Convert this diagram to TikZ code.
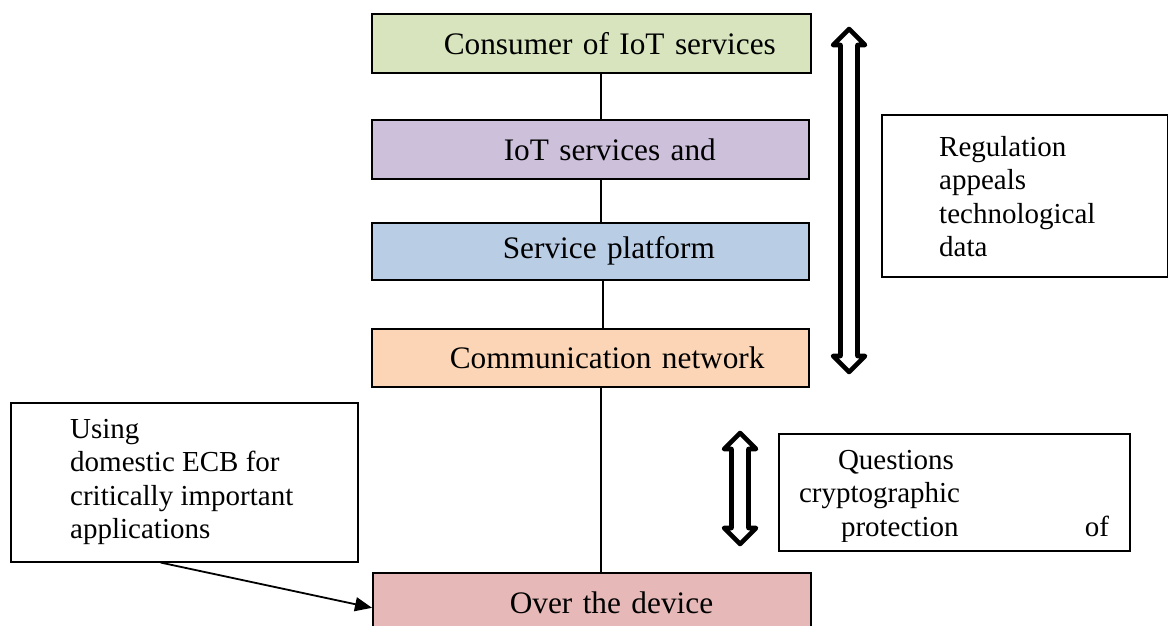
\documentclass[tikz,border=0pt]{standalone}
\usepackage{fontspec}
\setmainfont{Liberation Serif}
\usetikzlibrary{arrows.meta}
\definecolor{cgreen}{HTML}{D7E4BD}
\definecolor{cpurple}{HTML}{CCC0DA}
\definecolor{cblue}{HTML}{B9CDE5}
\definecolor{corange}{HTML}{FBD5B5}
\definecolor{cpink}{HTML}{E6B9B8}
\tikzset{
  layer/.style={draw, line width=1.6pt, inner sep=0pt, anchor=north west, align=left,
    font=\fontsize{31.3}{38}\selectfont},
  sidebox/.style={draw, line width=1.6pt, inner sep=0pt, anchor=north west},
  sidetext/.style={inner sep=0pt, align=left, font=\fontsize{29}{33.5}\selectfont},
  conn/.style={line width=1.1pt},
  dblarrow/.style={draw, fill=white, line width=4.6pt, line join=round},
  pointer/.style={line width=1.8pt, -{Triangle[length=17pt,width=14pt]}}
}
\begin{document}
\begin{tikzpicture}[x=1pt,y=1pt]
\useasboundingbox (0,0) rectangle (1168,-626);
% layer boxes
\node[layer, fill=cgreen, minimum width=439pt, minimum height=59pt, text width=439pt] (g) at (371,-13) {\hspace*{72pt}Consumer of IoT services};
\node[layer, fill=cpurple, minimum width=437pt, minimum height=59pt, text width=437pt] (p) at (371,-119) {\hspace*{132pt}IoT services and};
\node[layer, fill=cblue, minimum width=437pt, minimum height=57pt, text width=437pt] (b) at (371,-222) {\hspace*{131pt}Service platform};
\node[layer, fill=corange, minimum width=437pt, minimum height=58pt, text width=437pt] (o) at (371,-328) {\hspace*{78pt}Communication network};
\node[layer, fill=cpink, minimum width=438pt, minimum height=60pt, text width=438pt] (d) at (372,-572) {\hspace*{137pt}Over the device};
% connectors
\coordinate (cx) at (601,0);
\coordinate (cy) at (603,0);
\draw[conn] (g.south -| cx) -- (p.north -| cx);
\draw[conn] (p.south -| cx) -- (b.north -| cx);
\draw[conn] (b.south -| cy) -- (o.north -| cy);
\draw[conn] (o.south -| cx) -- (d.north -| cx);
% side boxes
\node[sidebox, minimum width=286pt, minimum height=162pt] (r) at (881,-114) {};
\node[sidetext, anchor=west] (rt) at (939,-196.5) {Regulation\\appeals\\technological\\data};
\node[sidebox, minimum width=351pt, minimum height=117pt] (q) at (778,-433) {};
\begin{scope}
\clip (778,-433) rectangle (1129,-541);
\node[sidetext, text width=310pt] (qt) at (954,-496) {\hspace*{39pt}Questions\\cryptographic\\\hspace*{42pt}protection\hfill of};
\end{scope}
\node[sidebox, minimum width=347pt, minimum height=159pt] (u) at (10,-402) {};
\node[sidetext, anchor=west] (ut) at (70,-482) {Using\\domestic ECB for\\critically important\\applications};
% pointer arrow
\draw[pointer] ([xshift=-23.5pt]u.south) -- ([yshift=-5pt]d.west);
% double arrows
\draw[dblarrow] (849,-29) -- (865,-45) -- (857.5,-45) -- (857.5,-356) -- (865,-356) -- (849,-372)
  -- (833,-356) -- (840.5,-356) -- (840.5,-45) -- (833,-45) -- cycle;
\draw[dblarrow] (740,-433) -- (756,-449) -- (748.5,-449) -- (748.5,-528) -- (756,-528) -- (740,-544)
  -- (724,-528) -- (731.5,-528) -- (731.5,-449) -- (724,-449) -- cycle;
\end{tikzpicture}
\end{document}
